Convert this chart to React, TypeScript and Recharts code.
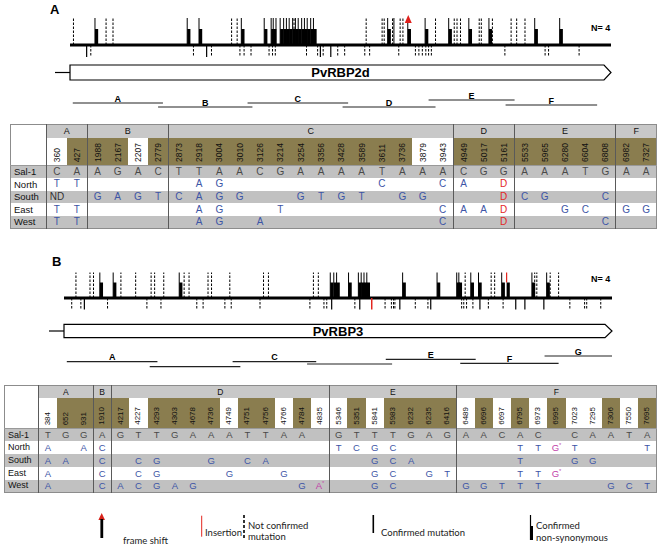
import React from 'react'
import { ComposedChart, XAxis, YAxis, Scatter, ReferenceLine, ReferenceArea } from 'recharts'

const W = 662

// ---------- PvRBP2d (panel A): mutation map, positions in bp ----------
const rbp2dLength = 7800
const rbp2dNonSyn = [360, 1690, 1860, 2470, 2800, 2900, 2930, 3030, 3080, 3120, 3160, 3210, 3250, 3290, 3340, 3380, 3420, 3470, 3510, 4580, 5120, 5460, 5750, 6040, 6700, 7060]
const rbp2dConfirmedUp = [2970, 4670]
const rbp2dUnconfirmedUp = [50, 520, 620, 2330, 2410, 3230, 4270, 4500, 4530, 4650, 4760, 4800, 5270, 5540, 5580, 5630, 5900, 5930, 6090, 6360, 6440, 6560]
const rbp2dFrameShift = [4870]
const rbp2dConfirmedDown = [240, 1970, 3610, 3760]
const rbp2dUnconfirmedDown = [300, 1780, 2040, 2450, 2510, 2610, 2870, 2920, 2960, 3410, 3570, 3650, 3860, 3960, 4250, 4320, 4740, 4980, 5030, 5080, 5130, 5170, 5210, 6270, 6850, 6900, 7340]
const rbp2dFragNames = ['A', 'B', 'C', 'D', 'E', 'F']
const rbp2dFragStart = [40, 1270, 2560, 3930, 5170, 6280]
const rbp2dFragEnd = [1340, 2630, 4010, 5270, 6410, 7600]

// ---------- PvRBP3 (panel B) ----------
const rbp3Length = 7800
const rbp3NonSyn = [510, 700, 1640, 3790, 3840, 3880, 4050, 4190, 4230, 4270, 4310, 4820, 5310, 5590, 5620, 5790, 5900, 6230, 6660, 6870]
const rbp3UnconfirmedUp = [170, 370, 420, 810, 1020, 1240, 1290, 1420, 1710, 1780, 2050, 2100, 2360, 2840, 2910, 3550, 3620, 5710, 6080, 6130, 6700, 6730, 6920, 7040]
const rbp3InsertionUp = [6300]
const rbp3ConfirmedDown = [290, 3810, 4210, 4780, 5220, 5920, 6430, 6560, 6830]
const rbp3UnconfirmedDown = [110, 240, 620, 1180, 1380, 1890, 1980, 2290, 2380, 2790, 3500, 3700, 3740, 4140, 4570, 4660, 4690, 4710, 5000, 5180, 5660, 5690, 5730, 5820, 6040, 6250, 7200, 7410, 7440, 7640]
const rbp3InsertionDown = [4380]
const rbp3FragNames = ['A', '', 'C', '', 'E', 'F', 'G']
const rbp3FragStart = [40, 1220, 2400, 3460, 4580, 5640, 6840]
const rbp3FragEnd = [1330, 2510, 3590, 4670, 5860, 7040, 7800]

// ---------- SNP tables ----------
const rowNames = ['Sal-1', 'North', 'South', 'East', 'West']

const rbp2dGroups = ['A', 'B', 'C', 'D', 'E', 'F']
const rbp2dGroupSizes = [2, 4, 14, 3, 5, 2]
const rbp2dPositions = [360, 427, 1988, 2167, 2207, 2779, 2873, 2918, 3004, 3010, 3126, 3214, 3254, 3356, 3428, 3589, 3611, 3736, 3879, 3943, 4949, 5017, 5161, 5533, 5965, 6280, 6604, 6808, 6982, 7327]
const rbp2dShaded = [0, 1, 1, 1, 0, 1, 1, 1, 1, 1, 1, 1, 1, 1, 1, 1, 1, 1, 0, 0, 1, 1, 1, 1, 1, 1, 1, 1, 1, 1]
const rbp2dSal1 = ['C', 'A', 'A', 'G', 'A', 'C', 'T', 'T', 'A', 'A', 'C', 'G', 'A', 'A', 'A', 'A', 'T', 'A', 'A', 'A', 'C', 'G', 'G', 'A', 'A', 'A', 'T', 'G', 'A', 'A']
const rbp2dNorth = ['T', 'T', '', '', '', '', '', 'A', 'G', '', '', '', '', '', '', '', 'C', '', '', 'C', 'A', '', 'D', '', '', '', '', '', '', '']
const rbp2dSouth = ['ND', '', 'G', 'A', 'G', 'T', 'C', 'A', 'G', 'G', '', '', 'G', 'T', 'G', 'T', '', 'G', 'G', '', '', '', 'D', 'C', 'G', '', '', 'C', '', '']
const rbp2dEast = ['T', 'T', '', '', '', '', '', 'A', 'G', '', '', 'T', '', '', '', '', '', '', '', 'C', 'A', 'A', 'D', '', '', 'G', 'C', '', 'G', 'G']
const rbp2dWest = ['T', 'T', '', '', '', '', '', 'A', 'G', '', 'A', '', '', '', '', '', '', '', '', 'C', '', '', 'D', '', '', '', '', 'C', '', '']

const rbp3Groups = ['A', 'B', 'D', 'E', 'F']
const rbp3GroupSizes = [3, 1, 12, 7, 11]
const rbp3Positions = [384, 652, 931, 1910, 4217, 4227, 4293, 4303, 4678, 4736, 4749, 4751, 4756, 4766, 4784, 4835, 5346, 5351, 5841, 5983, 6232, 6235, 6416, 6489, 6696, 6697, 6795, 6973, 6995, 7023, 7295, 7306, 7550, 7695]
const rbp3Shaded = [0, 1, 1, 1, 1, 0, 1, 1, 1, 1, 0, 1, 1, 0, 1, 0, 0, 1, 0, 1, 1, 1, 1, 0, 1, 0, 1, 0, 1, 0, 0, 1, 0, 1]
const rbp3Sal1 = ['T', 'G', 'G', 'A', 'G', 'T', 'T', 'G', 'A', 'A', 'A', 'T', 'T', 'A', 'A', '', 'G', 'T', 'T', 'T', 'G', 'A', 'G', 'A', 'A', 'C', 'A', 'C', '', 'C', 'A', 'A', 'T', 'A']
const rbp3North = ['A', '', 'A', 'C', '', '', '', '', '', '', '', '', '', '', '', '', 'T', 'C', 'G', 'C', '', '', '', '', '', '', 'T', 'T', 'G*', 'T', '', '', '', 'T']
const rbp3South = ['A', 'A', '', 'C', '', 'C', 'G', '', '', 'G', '', 'C', 'A', '', '', '', '', '', 'G', 'C', 'A', '', '', '', '', '', 'T', '', '', 'G', 'G', '', '', '']
const rbp3East = ['A', '', '', 'C', '', 'C', 'G', '', '', '', 'G', '', '', 'G', '', '', '', '', 'G', 'C', '', 'G', 'T', '', '', '', 'T', 'T', 'G*', '', '', '', '', '']
const rbp3West = ['A', '', '', 'C', 'A', 'C', 'G', 'A', 'G', '', '', '', '', '', 'G', 'A*', '', '', 'G', 'C', '', '', '', 'G', 'G', 'T', 'T', 'T', '', '', '', 'G', 'C', 'T']

// ---------- styling ----------
const SANS = '"Liberation Sans", Arial, sans-serif'
const OLIVE = '#8a7d4f'
const ROW_GRAY = '#c1c1c1'
const HEAD_GRAY = '#c8c8c8'
const SEP = '1px solid #5a5a5a'
const LINE = '1px solid #999'

type Kind = 'dashUp' | 'solidUp' | 'nonsyn' | 'frameshift' | 'insUp' | 'dashDown' | 'solidDown' | 'insDown'

const tickShape = (kind: Kind, up: number, thick: number, down: number) => (p: any) => {
  const { cx, cy } = p
  if (cx == null || cy == null) return <g />
  const k = '#000'
  switch (kind) {
    case 'dashUp':
      return <line x1={cx} x2={cx} y1={cy} y2={cy - up} stroke={k} strokeWidth={1} strokeDasharray="2.5 1.5" />
    case 'solidUp':
      return <line x1={cx} x2={cx} y1={cy} y2={cy - up} stroke={k} strokeWidth={1} />
    case 'nonsyn':
      return (
        <g>
          <line x1={cx} x2={cx} y1={cy} y2={cy - up} stroke={k} strokeWidth={1} />
          <rect x={cx} y={cy - thick} width={3.2} height={thick} fill={k} />
        </g>
      )
    case 'frameshift':
      return (
        <g>
          <line x1={cx} x2={cx} y1={cy} y2={cy - up + 4} stroke={k} strokeWidth={1} />
          <rect x={cx} y={cy - thick} width={3.2} height={thick} fill={k} />
          <polygon points={`${cx - 3},${cy - up + 5} ${cx + 4},${cy - up + 5} ${cx + 0.5},${cy - up - 3}`} fill="#e0201b" />
        </g>
      )
    case 'insUp':
      return (
        <g>
          <line x1={cx} x2={cx} y1={cy - thick} y2={cy - up} stroke="#e3261f" strokeWidth={1.2} />
          <rect x={cx} y={cy - thick} width={3.2} height={thick} fill={k} />
        </g>
      )
    case 'dashDown':
      return <line x1={cx} x2={cx} y1={cy} y2={cy + down} stroke={k} strokeWidth={1} strokeDasharray="2.5 1.5" />
    case 'solidDown':
      return <line x1={cx} x2={cx} y1={cy} y2={cy + down} stroke={k} strokeWidth={1.2} />
    case 'insDown':
      return <line x1={cx} x2={cx} y1={cy} y2={cy + down} stroke="#e3261f" strokeWidth={1.5} />
  }
  return <g />
}

const geneShape = (name: string) => (p: any) => {
  const { x, y, width, height } = p
  const tip = 7
  const mid = y + height / 2
  return (
    <g>
      <line x1={x - 15} x2={x} y1={mid} y2={mid} stroke="#000" strokeWidth={1.2} />
      <path d={`M${x},${y} H${x + width - tip} L${x + width},${mid} L${x + width - tip},${y + height} H${x} Z`} fill="#fff" stroke="#000" strokeWidth={1.2} />
      <text x={x + width / 2} y={mid + 4.5} textAnchor="middle" fontFamily={SANS} fontWeight="bold" fontSize={13}>{name}</text>
    </g>
  )
}

const fragShape = (name: string) => (p: any) => {
  const yLine = p.y + p.height
  return (
    <g>
      <line x1={p.x} x2={p.x + p.width} y1={yLine} y2={yLine} stroke="#222" strokeWidth={1.2} />
      {name && (
        <text x={p.x + p.width / 2} y={yLine - 1.5} textAnchor="middle" fontFamily={SANS} fontWeight="bold" fontSize={9}>{name}</text>
      )}
    </g>
  )
}

type TrackProps = {
  height: number
  left: number
  right: number
  length: number
  baseY: number
  up: number
  thick: number
  down: number
  nonSyn: number[]
  confirmedUp?: number[]
  unconfirmedUp: number[]
  frameShift?: number[]
  insertionUp?: number[]
  confirmedDown: number[]
  unconfirmedDown: number[]
  insertionDown?: number[]
  gene: string
  geneY: [number, number]
  fragNames: string[]
  fragStart: number[]
  fragEnd: number[]
  fragY: number[]
}

function Track(t: TrackProps) {
  const pts = (xs: number[] = []) => xs.map((x) => ({ x, y: t.baseY }))
  const series: [number[] | undefined, Kind][] = [
    [t.unconfirmedUp, 'dashUp'],
    [t.confirmedUp, 'solidUp'],
    [t.nonSyn, 'nonsyn'],
    [t.frameShift, 'frameshift'],
    [t.insertionUp, 'insUp'],
    [t.unconfirmedDown, 'dashDown'],
    [t.confirmedDown, 'solidDown'],
    [t.insertionDown, 'insDown'],
  ]
  return (
    <ComposedChart width={W} height={t.height} margin={{ top: 0, right: t.right, bottom: 0, left: t.left }}>
      <XAxis type="number" dataKey="x" domain={[0, t.length]} allowDataOverflow hide />
      <YAxis type="number" dataKey="y" domain={[0, t.height]} allowDataOverflow reversed hide />
      <ReferenceLine y={t.baseY} stroke="#000" strokeWidth={3} />
      {series.map(([xs, kind]) =>
        xs && xs.length ? (
          <Scatter key={kind} data={pts(xs)} shape={tickShape(kind, t.up, t.thick, t.down)} isAnimationActive={false} />
        ) : null
      )}
      <ReferenceArea x1={0} x2={t.length} y1={t.geneY[0]} y2={t.geneY[1]} shape={geneShape(t.gene)} />
      {t.fragNames.map((n, i) => (
        <ReferenceArea key={i} x1={t.fragStart[i]} x2={t.fragEnd[i]} y1={t.fragY[i] - 6} y2={t.fragY[i]} shape={fragShape(n)} />
      ))}
    </ComposedChart>
  )
}

type TableProps = {
  left: number
  top: number
  labelW: number
  colW: number
  headH: number
  posH: number
  rowH: number
  headFont: number
  numFont: number
  baseFont: number
  labelFont: number
  groups: string[]
  groupSizes: number[]
  positions: number[]
  shaded: number[]
  rows: string[][]
}

function baseColor(v: string, ref: boolean) {
  if (ref) return '#4a4a4a'
  if (v === 'D') return '#e3261f'
  if (v.endsWith('*')) return '#c23ea8'
  if (v === 'ND') return '#333'
  return '#3d55a6'
}

function SnpTable(p: TableProps) {
  const firstCols = new Set<number>()
  p.groupSizes.reduce((acc, s) => {
    firstCols.add(acc)
    return acc + s
  }, 0)
  const total = p.labelW + p.colW * p.positions.length
  const td: React.CSSProperties = { padding: 0, textAlign: 'center', overflow: 'hidden', whiteSpace: 'nowrap', lineHeight: 1 }
  return (
    <table
      style={{
        position: 'absolute',
        left: p.left,
        top: p.top,
        width: total,
        borderCollapse: 'collapse',
        tableLayout: 'fixed',
        border: '1px solid #8c8c8c',
        fontFamily: SANS,
        color: '#111',
      }}
    >
      <colgroup>
        <col style={{ width: p.labelW }} />
        {p.positions.map((pos) => (
          <col key={pos} style={{ width: p.colW }} />
        ))}
      </colgroup>
      <tbody>
        <tr style={{ height: p.headH }}>
          <td rowSpan={2} style={{ ...td, background: '#fff', borderRight: SEP }} />
          {p.groups.map((g, i) => (
            <td key={g} colSpan={p.groupSizes[i]} style={{ ...td, background: HEAD_GRAY, borderLeft: SEP, fontSize: p.headFont }}>
              {g}
            </td>
          ))}
        </tr>
        <tr style={{ height: p.posH }}>
          {p.positions.map((pos, i) => (
            <td
              key={pos}
              style={{ ...td, position: 'relative', background: p.shaded[i] ? OLIVE : '#fff', borderLeft: firstCols.has(i) ? SEP : 'none' }}
            >
              <span
                style={{
                  position: 'absolute',
                  left: '50%',
                  bottom: 3,
                  writingMode: 'vertical-rl',
                  transform: 'translateX(-50%) rotate(180deg)',
                  fontSize: p.numFont,
                  color: '#111',
                }}
              >
                {pos}
              </span>
            </td>
          ))}
        </tr>
        {rowNames.map((name, r) => (
          <tr key={name} style={{ height: p.rowH, background: r % 2 === 0 ? ROW_GRAY : '#fff' }}>
            <td style={{ ...td, textAlign: 'left', paddingLeft: 3, fontSize: p.labelFont, borderRight: SEP, borderTop: r === 0 ? LINE : 'none' }}>
              {name}
            </td>
            {p.rows[r].map((v, i) => (
              <td
                key={i}
                style={{
                  ...td,
                  fontSize: p.baseFont,
                  color: baseColor(v, r === 0),
                  borderLeft: firstCols.has(i) ? SEP : 'none',
                  borderTop: r === 0 ? LINE : 'none',
                }}
              >
                {v.endsWith('*') ? (
                  <>
                    {v[0]}
                    <span style={{ fontSize: p.baseFont * 0.6, verticalAlign: 'top' }}>*</span>
                  </>
                ) : (
                  v
                )}
              </td>
            ))}
          </tr>
        ))}
      </tbody>
    </table>
  )
}

function Legend() {
  const f = { fontFamily: 'Lato, "Open Sans", sans-serif', fontSize: 9.5, fill: '#222' }
  return (
    <svg style={{ position: 'absolute', left: 0, top: 500 }} width={W} height={46}>
      <polygon points="98.4,20 105,20 101.7,13" fill="#d8231b" />
      <rect x={100.4} y={19} width={2.8} height={19} fill="#000" />
      <text x={123} y={44} {...f}>frame shift</text>
      <line x1={201.7} x2={201.7} y1={15.7} y2={36.7} stroke="#e3261f" strokeWidth={1} />
      <text x={205} y={36} {...f}>Insertion</text>
      <line x1={244} x2={244} y1={15} y2={40} stroke="#000" strokeWidth={1.6} strokeDasharray="3 2" />
      <text x={248} y={29} {...f}>Not confirmed</text>
      <text x={248} y={40} {...f}>mutation</text>
      <line x1={373.3} x2={373.3} y1={15} y2={33} stroke="#000" strokeWidth={1.6} />
      <text x={381} y={36} {...f}>Confirmed mutation</text>
      <line x1={530.5} x2={530.5} y1={15} y2={40} stroke="#000" strokeWidth={1.2} />
      <rect x={530} y={26} width={3} height={14} fill="#000" />
      <text x={536} y={29} {...f}>Confirmed</text>
      <text x={536} y={41} {...f}>non-synonymous</text>
    </svg>
  )
}

export default function App() {
  return (
    <div style={{ position: 'absolute', left: 0, top: 0, width: W, height: 546, background: '#fff', overflow: 'hidden' }}>
      <div style={{ position: 'absolute', left: 0, top: 0 }}>
        <Track
          height={115}
          left={70}
          right={51}
          length={rbp2dLength}
          baseY={45}
          up={27}
          thick={16}
          down={12}
          nonSyn={rbp2dNonSyn}
          confirmedUp={rbp2dConfirmedUp}
          unconfirmedUp={rbp2dUnconfirmedUp}
          frameShift={rbp2dFrameShift}
          confirmedDown={rbp2dConfirmedDown}
          unconfirmedDown={rbp2dUnconfirmedDown}
          gene="PvRBP2d"
          geneY={[65, 80]}
          fragNames={rbp2dFragNames}
          fragStart={rbp2dFragStart}
          fragEnd={rbp2dFragEnd}
          fragY={[103, 107, 103, 107, 100, 105]}
        />
      </div>
      <div style={{ position: 'absolute', left: 0, top: 250 }}>
        <Track
          height={125}
          left={64}
          right={50}
          length={rbp3Length}
          baseY={48}
          up={25.5}
          thick={15.5}
          down={11.5}
          nonSyn={rbp3NonSyn}
          unconfirmedUp={rbp3UnconfirmedUp}
          insertionUp={rbp3InsertionUp}
          confirmedDown={rbp3ConfirmedDown}
          unconfirmedDown={rbp3UnconfirmedDown}
          insertionDown={rbp3InsertionDown}
          gene="PvRBP3"
          geneY={[74.3, 87.7]}
          fragNames={rbp3FragNames}
          fragStart={rbp3FragStart}
          fragEnd={rbp3FragEnd}
          fragY={[111.7, 116.7, 111.7, 114, 109.3, 113.3, 106]}
        />
      </div>

      <svg style={{ position: 'absolute', left: 0, top: 0, pointerEvents: 'none' }} width={W} height={546}>
        <text x={50} y={14} fontFamily={SANS} fontWeight="bold" fontSize={13}>A</text>
        <text x={52} y={266} fontFamily={SANS} fontWeight="bold" fontSize={13}>B</text>
        <text x={591} y={31} fontFamily={SANS} fontWeight="bold" fontSize={9}>N= 4</text>
        <text x={591} y={282} fontFamily={SANS} fontWeight="bold" fontSize={9}>N= 4</text>
      </svg>

      <SnpTable
        left={10}
        top={124}
        labelW={36}
        colW={610 / 30}
        headH={13}
        posH={28}
        rowH={12.6}
        headFont={9}
        numFont={8.5}
        baseFont={10}
        labelFont={9.5}
        groups={rbp2dGroups}
        groupSizes={rbp2dGroupSizes}
        positions={rbp2dPositions}
        shaded={rbp2dShaded}
        rows={[rbp2dSal1, rbp2dNorth, rbp2dSouth, rbp2dEast, rbp2dWest]}
      />
      <SnpTable
        left={4}
        top={385}
        labelW={34}
        colW={618 / 34}
        headH={12}
        posH={31}
        rowH={12.8}
        headFont={8.5}
        numFont={8}
        baseFont={9.5}
        labelFont={9}
        groups={rbp3Groups}
        groupSizes={rbp3GroupSizes}
        positions={rbp3Positions}
        shaded={rbp3Shaded}
        rows={[rbp3Sal1, rbp3North, rbp3South, rbp3East, rbp3West]}
      />

      <Legend />
    </div>
  )
}
